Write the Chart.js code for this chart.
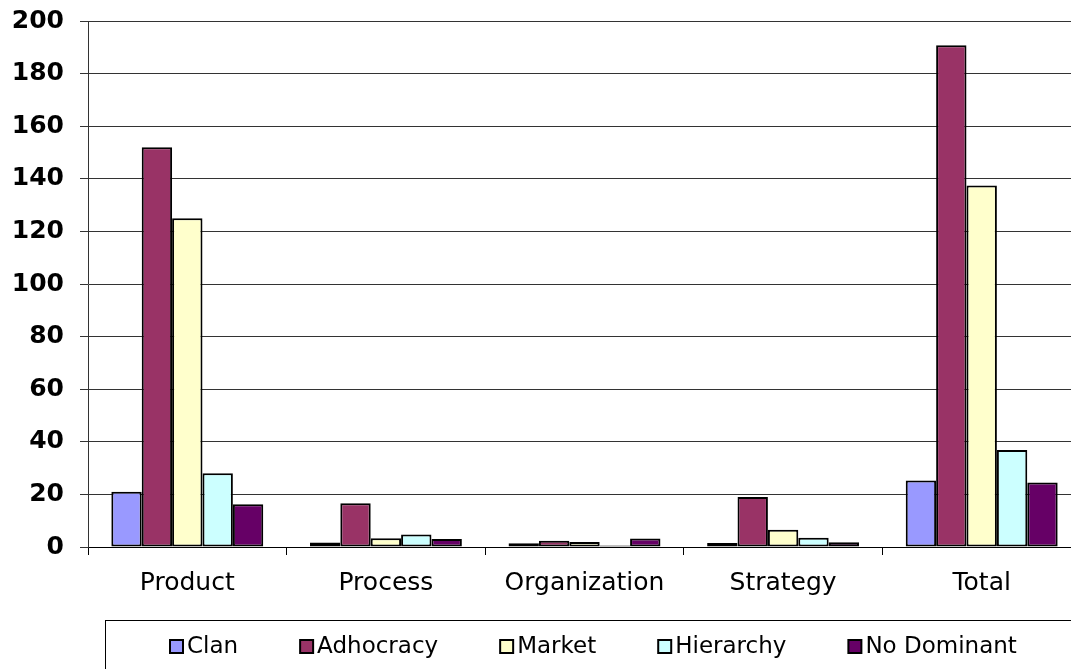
<!DOCTYPE html>
<html>
<head>
<meta charset="utf-8">
<script src="https://cdn.jsdelivr.net/npm/chart.js@4.4.1/dist/chart.umd.min.js"></script>
<style>
    html, body { margin: 0; padding: 0; background: #fff; overflow: hidden; width: 1071px; height: 669px; }
    #wrap { position: relative; width: 1090px; height: 669px; }
</style>
</head>
<body>
<div id="wrap"><canvas id="chart"></canvas></div>
<script>
// Chart data
const categories = ['Product', 'Process', 'Organization', 'Strategy', 'Total'];
const clan = [21, 1.7, 1.4, 1.5, 25.3];
const adhocracy = [152, 16.6, 2.4, 19, 190.8];
const market = [125, 3.3, 1.9, 6.6, 137.5];
const hierarchy = [28, 4.8, 0.6, 3.5, 36.9];
const noDominant = [16.3, 3, 3.2, 1.8, 24.5];
const yTicks = [0, 20, 40, 60, 80, 100, 120, 140, 160, 180, 200];

const seriesNames = ['Clan', 'Adhocracy', 'Market', 'Hierarchy', 'No Dominant'];
const seriesColors = ['#9999ff', '#993366', '#ffffcc', '#ccffff', '#660066'];
const seriesValues = [clan, adhocracy, market, hierarchy, noDominant];

const FONT = "'DejaVu Sans', Verdana, sans-serif";

// Boxed legend drawn below the plot
const boxedLegend = {
    id: 'boxedLegend',
    afterDraw(chart) {
        const ctx = chart.ctx;
        ctx.save();
        ctx.strokeStyle = '#000';
        ctx.lineWidth = 1;
        ctx.strokeRect(105.5, 620.5, 1200, 100);

        ctx.font = '23px ' + FONT;
        ctx.textBaseline = 'middle';
        const cy = 647;
        let x = 170;
        chart.data.datasets.forEach(ds => {
            ctx.fillStyle = ds.backgroundColor;
            ctx.fillRect(x, cy - 7, 13, 13);
            ctx.lineWidth = 2;
            ctx.strokeStyle = '#000';
            ctx.strokeRect(x, cy - 7, 13, 13);
            ctx.fillStyle = '#000';
            ctx.fillText(ds.label, x + 17, cy);
            x += 17 + ctx.measureText(ds.label).width + 62;
        });
        ctx.restore();
    }
};

new Chart(document.getElementById('chart'), {
    type: 'bar',
    data: {
        labels: categories,
        datasets: seriesNames.map((name, i) => ({
            label: name,
            data: seriesValues[i],
            backgroundColor: seriesColors[i],
            borderColor: '#000',
            borderWidth: 2,
            borderSkipped: false,
            categoryPercentage: 0.765,
            barPercentage: 1.0,
        })),
    },
    options: {
        responsive: true,
        maintainAspectRatio: false,
        animation: false,
        layout: { padding: { top: 21, right: 9, left: 0, bottom: 0 } },
        plugins: {
            legend: { display: false },
            tooltip: { enabled: false },
        },
        scales: {
            x: {
                afterFit: (scale) => {
                    scale.height = 122;
                    scale.paddingLeft = 0;
                    scale.paddingRight = 0;
                },
                grid: {
                    offset: true,
                    drawOnChartArea: false,
                    drawTicks: true,
                    tickLength: 8,
                    color: '#000',
                },
                border: { display: true, color: '#000', width: 1 },
                ticks: {
                    color: '#000',
                    padding: 13,
                    font: { family: FONT, size: 25 },
                },
            },
            y: {
                min: 0,
                max: 200,
                afterFit: (scale) => {
                    scale.width = 88;
                    scale.paddingTop = 0;
                    scale.paddingBottom = 0;
                },
                afterBuildTicks: (scale) => { scale.ticks = yTicks.map(v => ({ value: v })); },
                grid: {
                    color: '#333',
                    tickLength: 8,
                    lineWidth: 1,
                },
                border: { display: true, color: '#333', width: 1 },
                ticks: {
                    color: '#000',
                    padding: 16,
                    font: { family: FONT, size: 25, weight: 'bold' },
                },
            },
        },
    },
    plugins: [boxedLegend],
});
</script>
</body>
</html>
